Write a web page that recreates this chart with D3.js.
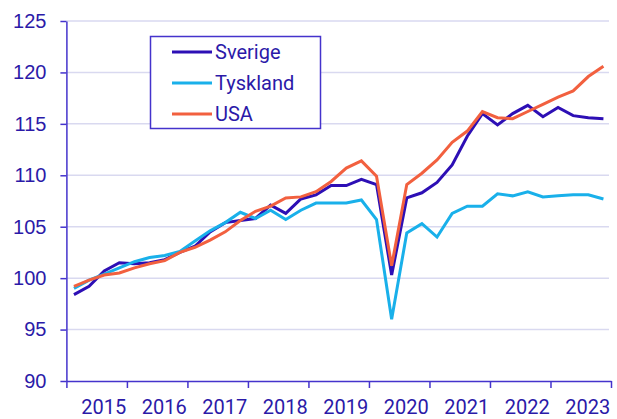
<!DOCTYPE html>
<html>
<head>
<meta charset="utf-8">
<script src="https://cdn.jsdelivr.net/npm/d3@7"></script>
<style>
  body { margin: 0; background: #fff; }
  svg { display: block; font-family: Roboto, "Liberation Sans", sans-serif; }
</style>
</head>
<body>
<script>
// year labels on the x axis, one per 4 quarters
var years = ["2015", "2016", "2017", "2018", "2019", "2020", "2021", "2022", "2023"];
var yTicks = [90, 95, 100, 105, 110, 115, 120, 125];

// quarterly index values
var sverige = [98.4, 99.2, 100.7, 101.5, 101.4, 101.5, 101.8, 102.5,
               103.1, 104.5, 105.4, 105.6, 105.8, 107.1, 106.3, 107.7,
               108.1, 109.0, 109.0, 109.6, 109.1, 100.3, 107.8, 108.3,
               109.3, 111.0, 113.8, 116.0, 114.9, 116.0, 116.8, 115.7,
               116.6, 115.8, 115.6, 115.5];
var tyskland = [99.0, 99.8, 100.4, 101.0, 101.6, 102.0, 102.2, 102.6,
                103.6, 104.6, 105.4, 106.4, 105.8, 106.6, 105.7, 106.6,
                107.3, 107.3, 107.3, 107.6, 105.7, 96.0, 104.4, 105.3,
                104.0, 106.3, 107.0, 107.0, 108.2, 108.0, 108.4, 107.9,
                108.0, 108.1, 108.1, 107.7];
var usa = [99.2, 99.8, 100.3, 100.5, 101.0, 101.4, 101.7, 102.5,
           103.0, 103.7, 104.5, 105.6, 106.5, 107.0, 107.8, 107.9,
           108.4, 109.4, 110.7, 111.4, 109.9, 101.2, 109.1, 110.2,
           111.5, 113.2, 114.3, 116.2, 115.6, 115.5, 116.2, 116.9,
           117.6, 118.2, 119.6, 120.6];

var series = [
    {name: "Sverige", values: sverige, color: "#2d0fb5"},
    {name: "Tyskland", values: tyskland, color: "#19b0ea"},
    {name: "USA", values: usa, color: "#f2603f"}
];

var textColor = "#2b1aa8";
var axisColor = "#4433cc";
var gridColor = "#d9d9f0";

var svg = d3.select("body").append("svg")
    .attr("width", 617)
    .attr("height", 419);

// plot area edges (don't call these top/left, window.top is read-only)
var plotL = 66.4, plotR = 611, plotT = 21, plotB = 381;

var x = d3.scaleLinear().domain([0, years.length * 4]).range([plotL, plotR]);
var y = d3.scaleLinear().domain([90, 125]).range([plotB, plotT]);

// gridlines
svg.append("g")
    .selectAll("line")
    .data(yTicks.filter(d => d > 90))
    .join("line")
    .attr("x1", plotL).attr("x2", plotR - 2)
    .attr("y1", d => y(d)).attr("y2", d => y(d))
    .attr("stroke", gridColor)
    .attr("stroke-width", 1.5);

// y axis
var yAxis = svg.append("g")
    .attr("transform", "translate(" + plotL + ",0)")
    .call(d3.axisLeft(y).tickValues(yTicks).tickSize(6).tickPadding(14).tickSizeOuter(0));
yAxis.select(".domain").attr("stroke", axisColor).attr("stroke-width", 1.5);
yAxis.selectAll(".tick line").attr("stroke", axisColor).attr("stroke-width", 1.5);
yAxis.selectAll("text")
    .attr("fill", textColor)
    .style("font-size", "20px");

// x axis: ticks at year boundaries, labels between
var xAxis = svg.append("g")
    .attr("transform", "translate(0," + plotB + ")")
    .call(d3.axisBottom(x).tickValues(d3.range(0, years.length * 4 + 1, 4)).tickSize(7).tickFormat("").tickSizeOuter(0));
xAxis.select(".domain").attr("stroke", axisColor).attr("stroke-width", 1.5);
xAxis.selectAll(".tick line").attr("stroke", axisColor).attr("stroke-width", 1.5);

svg.append("g")
    .selectAll("text")
    .data(years)
    .join("text")
    .attr("x", (d, i) => x(i * 4 + 2) + 7)
    .attr("y", 414)
    .attr("text-anchor", "middle")
    .attr("fill", textColor)
    .style("font-size", "20px")
    .text(d => d);

// lines
var line = d3.line()
    .x((d, i) => x(i + 0.5))
    .y(d => y(d));

svg.append("g")
    .selectAll("path")
    .data(series)
    .join("path")
    .attr("d", d => line(d.values))
    .attr("fill", "none")
    .attr("stroke", d => d.color)
    .attr("stroke-width", 3);

// legend
var legend = svg.append("g");
legend.append("rect")
    .attr("x", 150.5).attr("y", 36.5)
    .attr("width", 170).attr("height", 92)
    .attr("fill", "#fff")
    .attr("stroke", axisColor)
    .attr("stroke-width", 1.5);

var rows = legend.selectAll("g.row")
    .data(series)
    .join("g")
    .attr("class", "row")
    .attr("transform", (d, i) => "translate(0," + (52 + i * 31) + ")");
rows.append("line")
    .attr("x1", 172).attr("x2", 212)
    .attr("stroke", d => d.color)
    .attr("stroke-width", 3);
rows.append("text")
    .attr("x", 215)
    .attr("dy", "0.35em")
    .attr("fill", textColor)
    .style("font-size", "20px")
    .text(d => d.name);
</script>
</body>
</html>
